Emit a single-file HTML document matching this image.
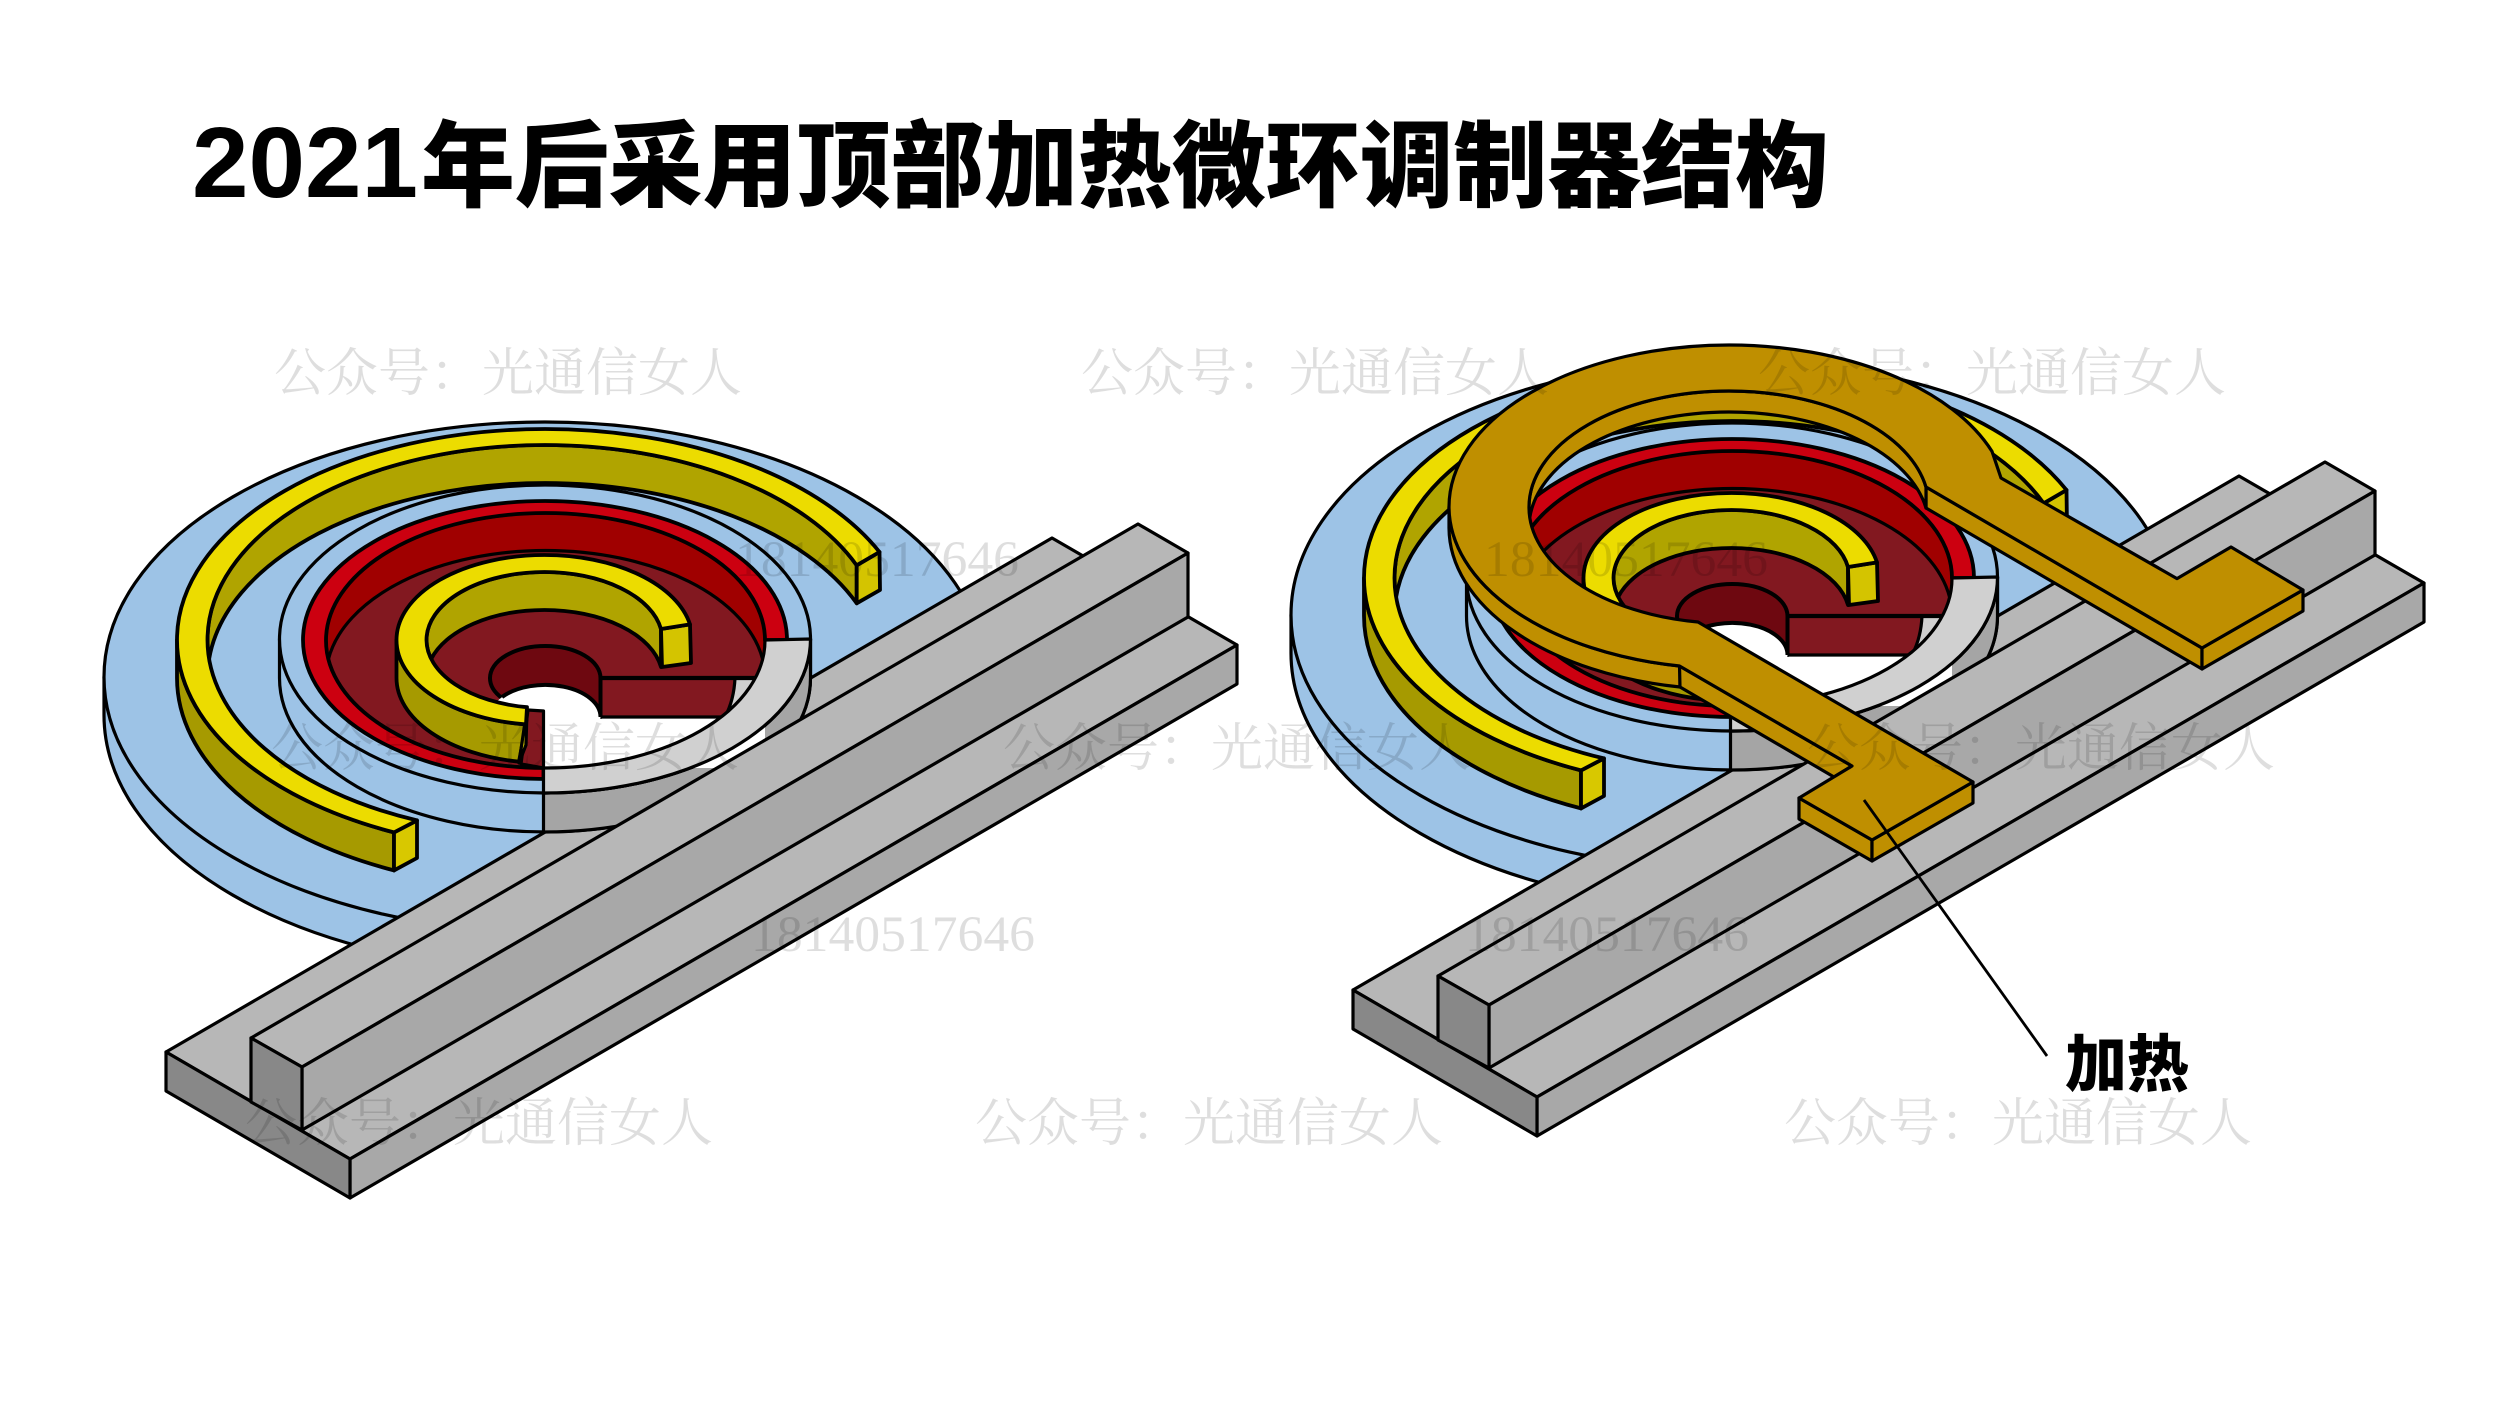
<!DOCTYPE html>
<html><head><meta charset="utf-8"><style>
html,body{margin:0;padding:0;background:#fff}
svg{display:block}
.s *{stroke:#000;stroke-width:3.2;stroke-linejoin:round}
.s .t{stroke-width:3.8}
.cjk{font-family:"Liberation Sans","Noto Sans CJK SC",sans-serif;font-weight:900;fill:#000}
.wm{font-family:"Noto Serif CJK SC","Liberation Serif",serif;font-size:52px;fill:#000;fill-opacity:.13}
.wn{font-family:"Liberation Serif",serif;font-size:51px;fill:#000;fill-opacity:.13}
</style></head><body>
<svg width="2500" height="1406" viewBox="0 0 2500 1406" xmlns="http://www.w3.org/2000/svg">
<rect width="2500" height="1406" fill="#fff"/>
<text x="192" y="197" textLength="226" lengthAdjust="spacingAndGlyphs" style="font-family:'Liberation Sans',sans-serif;font-weight:700;font-size:100px">2021</text>
<text class="cjk" x="421" y="199" textLength="1408" lengthAdjust="spacingAndGlyphs" font-size="94">年后采用顶部加热微环调制器结构</text>

<defs>
<g id="dev" class="s">
  <!-- disc -->
  <path d="M104,677 V715 A441 255 0 0 0 986,715 V677 Z" fill="#9DC3E6"/>
  <ellipse cx="545" cy="677" rx="441" ry="255" fill="#9DC3E6"/>
  <!-- slab -->
  <polygon points="166,1052 1052,538 1237,645 350,1159" fill="#B7B7B7"/>
  <polygon points="350,1159 1237,645 1237,684 350,1198" fill="#A8A8A8"/>
  <polygon points="166,1052 350,1159 350,1198 166,1091" fill="#888"/>
  <!-- pedestal -->
  <path d="M279.5,639 V678 A265.5 154 0 0 0 810.5,678 V639 Z" fill="#9DC3E6"/>
  <path d="M810.5,639 V678 A265.5 154 0 0 1 543.5,832 V793 A265.5 154 0 0 0 810.5,639 Z" fill="#A5A5A5"/>
  <ellipse cx="545" cy="639" rx="265.5" ry="154" fill="#9DC3E6"/>
  <!-- hole -->
  <path d="M765,640.5 A219.5 127.5 0 0 1 543.5,768 V640 Z" fill="#fff" style="stroke:none"/>
  <path d="M543.5,768 A219.5 127.5 0 0 1 326,640.5 A219.5 127.5 0 0 1 545.5,513 A219.5 127.5 0 0 1 765,640.5 V680 H543.5 Z" fill="#A00000"/>
  <path d="M762.6,659.25 V678 H543.5 V768 A219.5 127.5 0 0 1 328.4,659.25 A219.5 127.5 0 0 1 545.5,550.5 A219.5 127.5 0 0 1 762.6,659.25 Z" fill="#821820"/>
  <path d="M543.5,680 H765 V768 H543.5 Z" fill="#fff" style="stroke:none"/>
  <polygon points="735,680 772,680 745,722 727,714" fill="#D0D0D0" style="stroke:none"/>
  <path d="M600.5,678 H735 Q734,700 725,717 H600.5 Z" fill="#821820"/>
  <path d="M600.5,678 H760" fill="none" style="stroke-width:4.2"/>
  <path d="M600.5,717 V678 A55.25 32 0 1 0 490,678 A55.25 32 0 0 0 502,698 Z" fill="#6E0810" style="stroke-width:4"/>
  <ellipse cx="545.25" cy="717" rx="55.25" ry="32" fill="#fff" style="stroke:none"/>
  <path d="M502,697 A55.25 32 0 0 1 600.5,717" fill="none" style="stroke-width:4"/>
  <polygon points="528,710 543.5,711 543.5,768 521,764" fill="#821820"/>
  <!-- red top -->
  <path class="t" d="M543.5,779 A242 139 0 0 1 303,640 A242 139 0 0 1 545,501 A242 139 0 0 1 787,640 H765 A219.5 127.5 0 0 0 545.5,513 A219.5 127.5 0 0 0 326,640.5 A219.5 127.5 0 0 0 543.5,768 Z" fill="#CC0010"/>
  <!-- gray ring -->
  <path d="M810.5,639 A265.5 154 0 0 1 543.5,793 V768 A219.5 127.5 0 0 0 765,640 Z" fill="#D0D0D0"/>
  <!-- inner yellow -->
  <path class="t" d="M661,629 A118 68 0 0 0 544.5,572 A118 68 0 0 0 431.2,659 A118 68 0 0 1 544.5,610 A118 68 0 0 1 661,667 Z" fill="#B0A400"/>
  <path class="t" d="M396.5,640 V678 A148 85 0 0 0 519,761.7 L526,724.4 A148 85 0 0 1 396.5,640 Z" fill="#A69A00"/>
  <polygon points="527,710 525,722 519,763 526,745" fill="#D8C800"/>
  <polygon class="t" points="661,629 690,624.4 691,663 662,667" fill="#D4C400"/>
  <path class="t" d="M690,624.4 A148 85 0 0 0 544.5,555 A148 85 0 0 0 396.5,640 A148 85 0 0 0 526,724.4 L527,707.2 A118 68 0 0 1 426.5,640 A118 68 0 0 1 544.5,572 A118 68 0 0 1 661,629 Z" fill="#ECDC00"/>
  <!-- big yellow -->
  <path class="t" d="M856.7,565.3 A337.5 195 0 0 0 545,445 A337.5 195 0 0 0 209.1,659 A337.5 195 0 0 1 545,483 A337.5 195 0 0 1 856.7,603.3 Z" fill="#B0A400"/>
  <path class="t" d="M177,640 V678 A368 211 0 0 0 394,870.4 V832.4 A368 211 0 0 1 177,640 Z" fill="#A69A00"/>
  <polygon class="t" points="394,832.4 417,820.4 417,858 394,870.4" fill="#D8C800"/>
  <polygon class="t" points="856.7,565.3 879.5,552 880,590 856.7,603.3" fill="#D4C400"/>
  <path class="t" d="M879.5,552 A368 211 0 0 0 545,429 A368 211 0 0 0 177,640 A368 211 0 0 0 394,832.4 L417,820.4 A337.5 195 0 0 1 207.5,640 A337.5 195 0 0 1 545,445 A337.5 195 0 0 1 856.7,565.3 Z" fill="#ECDC00"/>
  <!-- rib -->
  <polygon points="251,1038 1138,524 1188,553 302,1067" fill="#B7B7B7"/>
  <polygon points="302,1067 1188,553 1188,617 302,1130" fill="#A8A8A8"/>
  <polygon points="251,1038 302,1067 302,1130 251,1102" fill="#888"/>
</g>
</defs>
<use href="#dev"/>
<use href="#dev" transform="translate(1187,-62)"/>

<!-- heater -->
<g class="s" fill="#BF8F00">
  <path d="M1449,507 V528 A280 162 0 0 0 1680,687 V666 A280 162 0 0 1 1449,507 Z"/>
  <polygon points="1679.5,666 1852,766 1834,777 1680,687"/>
  <polygon points="1799,798 1872,840 1872,861 1799,819"/>
  <polygon points="1872,840 1973,782 1973,803 1872,861"/>
  <polygon points="1926,487 2202,648 2202,669 1926,508"/>
  <polygon points="2202,648 2303,590 2303,611 2202,669"/>
  <path d="M1529.8,517.5 A200 116 0 0 1 1729,412 A200 116 0 0 1 1926,508 V487 A200 116 0 0 0 1729,391 A200 116 0 0 0 1529.8,517.5 Z"/>
  <path d="M1698,622 A200 116 0 0 1 1529,507 A200 116 0 0 1 1729,391 A200 116 0 0 1 1926,487 L2202,648 L2303,590 L2231,547 L2177,578.6 L2001,478 L1992,451.4 A280 162 0 0 0 1729,345 A280 162 0 0 0 1449,507 A280 162 0 0 0 1679.5,666 L1852,766 L1799,798 L1872,840 L1973,782 Z"/>
</g>
<line x1="1864" y1="800" x2="2047" y2="1056" stroke="#000" stroke-width="2.8"/>
<text class="cjk" x="2065" y="1086" textLength="124" lengthAdjust="spacingAndGlyphs" font-size="62">加热</text>

<!-- watermarks -->
<text class="wm" x="274" y="391">公众号：光通信女人</text>
<text class="wm" x="1081" y="391">公众号：光通信女人</text>
<text class="wm" x="1758" y="391">公众号：光通信女人</text>
<text class="wm" x="271" y="766">公众号：光通信女人</text>
<text class="wm" x="1003" y="766">公众号：光通信女人</text>
<text class="wm" x="1807" y="766">公众号：光通信女人</text>
<text class="wm" x="245" y="1141">公众号：光通信女人</text>
<text class="wm" x="975" y="1141">公众号：光通信女人</text>
<text class="wm" x="1784" y="1141">公众号：光通信女人</text>
<text class="wn" x="735" y="576" textLength="284" lengthAdjust="spacingAndGlyphs">18140517646</text>
<text class="wn" x="1484" y="576" textLength="284" lengthAdjust="spacingAndGlyphs">18140517646</text>
<text class="wn" x="751" y="951" textLength="284" lengthAdjust="spacingAndGlyphs">18140517646</text>
<text class="wn" x="1465" y="951" textLength="284" lengthAdjust="spacingAndGlyphs">18140517646</text>
</svg>
</body></html>
